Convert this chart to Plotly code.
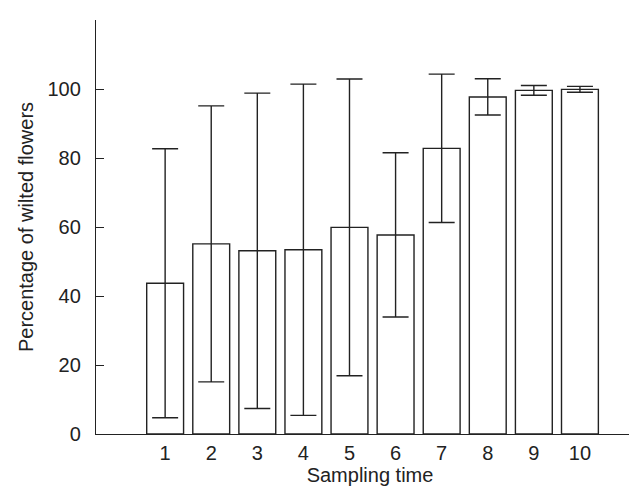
import plotly.graph_objects as go

sampling_time = [1, 2, 3, 4, 5, 6, 7, 8, 9, 10]
wilted_pct = [43.7, 55.1, 53.1, 53.4, 59.9, 57.7, 82.8, 97.7, 99.6, 99.9]
err = [39.0, 40.0, 45.7, 48.0, 43.0, 23.8, 21.5, 5.25, 1.4, 0.85]
y_ticks = [0, 20, 40, 60, 80, 100, 120]
y_ticktext = ["0", "20", "40", "60", "80", "100", ""]

fig = go.Figure()
fig.add_trace(go.Bar(
    x=sampling_time,
    y=wilted_pct,
    width=0.8,
    marker=dict(color="white", line=dict(color="#222222", width=1.4)),
    error_y=dict(type="data", array=err, visible=True, color="#222222",
                 thickness=1.4, width=13),
    showlegend=False,
))

font = dict(family="Liberation Sans, Arial, sans-serif", size=20, color="#222222")

fig.update_layout(
    width=637, height=486,
    margin=dict(l=88, r=1, t=12, b=60),
    plot_bgcolor="white", paper_bgcolor="white",
    font=font,
    xaxis=dict(
        range=[-0.5, 11.39],
        tickmode="array", tickvals=sampling_time,
        ticktext=[str(v) for v in sampling_time],
        showline=True, linecolor="#222222", linewidth=1.4,
        ticks="", showgrid=False, zeroline=False,
        ticklabelstandoff=1, automargin=False,
        tickfont=font,
        title=dict(text="Sampling time", font=font, standoff=0),
    ),
    yaxis=dict(
        range=[0, 120],
        tickmode="array", tickvals=y_ticks, ticktext=y_ticktext,
        showline=True, linecolor="#222222", linewidth=1.4,
        ticks="inside", ticklen=8, tickwidth=1.2, tickcolor="#222222",
        showgrid=False, zeroline=False, automargin=False,
        ticklabelstandoff=10,
        tickfont=font,
        title=dict(text="Percentage of wilted flowers", font=font, standoff=8),
    ),
)

fig.write_html("out.html")
